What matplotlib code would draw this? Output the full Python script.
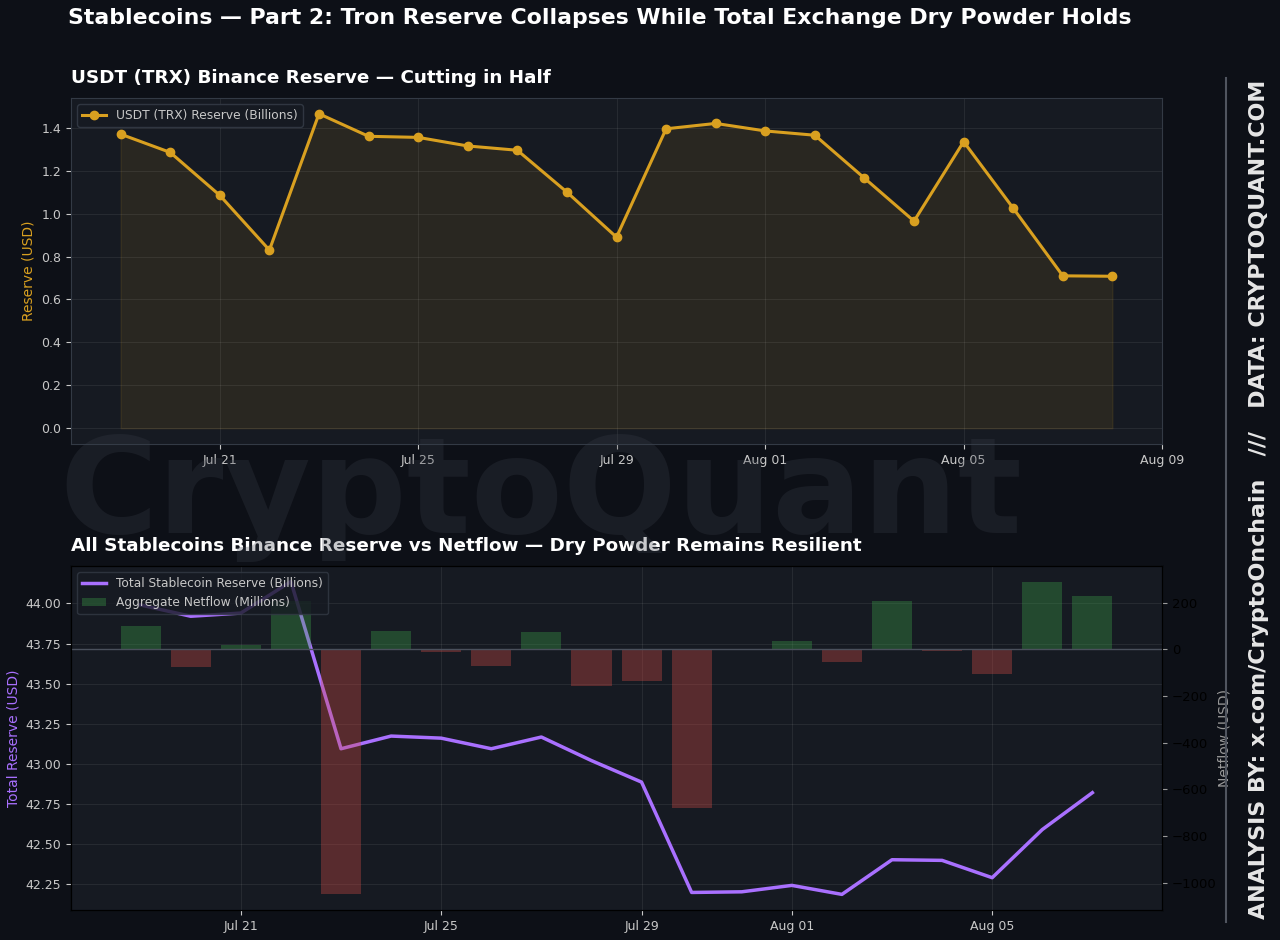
import numpy as np
import pandas as pd
import matplotlib
matplotlib.use('Agg')
import matplotlib.pyplot as plt
import matplotlib.dates as mdates
from matplotlib.lines import Line2D
from matplotlib.patches import Patch

# ============================= DATA =============================
trx_dates = pd.date_range('2025-07-19', '2025-08-08', freq='D')
trx_reserve = [1.37, 1.285, 1.085, 0.83, 1.465, 1.36, 1.355, 1.315, 1.295, 1.10,
               0.89, 1.395, 1.42, 1.385, 1.365, 1.165, 0.965, 1.335, 1.025, 0.71, 0.708]

all_dates = pd.date_range('2025-07-19', '2025-08-07', freq='D')
total_reserve = [43.99, 43.92, 43.94, 44.136, 43.094, 43.173, 43.16, 43.094, 43.167, 43.02,
                 42.886, 42.198, 42.202, 42.242, 42.186, 42.402, 42.398, 42.29, 42.59, 42.82]
netflow = [100, -75, 20, 210, -1050, 80, -10, -70, 75, -155,
           -135, -680, 0, 35, -55, 210, -6, -105, 291, 228]

# ============================= STYLE =============================
BG = '#0d1017'
AX_BG = '#161a22'
GOLD = '#d9a020'
PURPLE = '#a970ff'
GREEN = '#3ca14a'
RED = '#d64c45'
TICK = '#c8c8c8'
SPINE = '#333a45'

fig = plt.figure(figsize=(12.8, 9.4), dpi=100, facecolor=BG)
ax1 = fig.add_axes([0.0555, 0.5277, 0.8523, 0.368])
ax3 = fig.add_axes([0.0555, 0.0319, 0.8523, 0.366])

# ============================= TOP: USDT (TRX) =============================
ax1.set_facecolor(AX_BG)
ax1.plot(trx_dates, trx_reserve, color=GOLD, lw=2.2, marker='o', ms=6,
         label='USDT (TRX) Reserve (Billions)')
ax1.fill_between(trx_dates, trx_reserve, 0, color=GOLD, alpha=0.1)
ax1.set_title('USDT (TRX) Binance Reserve — Cutting in Half', loc='left',
              color='white', fontsize=13.2, fontweight='bold', pad=11)
ax1.set_ylabel('Reserve (USD)', color=GOLD, fontsize=10)
ax1.grid(color='white', alpha=0.07)
ax1.tick_params(colors=TICK, labelsize=9)
for s in ax1.spines.values():
    s.set_color(SPINE)
ax1.xaxis.set_major_formatter(mdates.DateFormatter('%b %d'))
ax1.legend(loc='upper left', fontsize=8.8, facecolor=AX_BG, edgecolor=SPINE,
           labelcolor=TICK, framealpha=0.9)

# ============================= BOTTOM: ALL STABLECOINS =============================
ax3.set_facecolor(AX_BG)
ax3.plot(all_dates, total_reserve, color=PURPLE, lw=2.5)
ax3.set_ylabel('Total Reserve (USD)', color=PURPLE, fontsize=10)
ax3.set_title('All Stablecoins Binance Reserve vs Netflow — Dry Powder Remains Resilient',
              loc='left', color='white', fontsize=13.2, fontweight='bold', pad=11)
ax3.grid(color='white', alpha=0.07)
ax3.tick_params(colors=TICK, labelsize=9)

ax4 = ax3.twinx()
bar_colors = [GREEN if v >= 0 else RED for v in netflow]
ax4.bar(all_dates, netflow, width=0.8, color=bar_colors, alpha=0.35)
ax4.axhline(0, color='#4a505c', lw=1)
ax4.set_ylabel('Netflow (USD)', color='#9a9a9a', fontsize=10, labelpad=1)
ax4.tick_params(axis='y', color='#9a9a9a', labelcolor='black', labelsize=9.5)
ax3.xaxis.set_major_formatter(mdates.DateFormatter('%b %d'))

handles = [Line2D([0], [0], color=PURPLE, lw=2.5),
           Patch(facecolor=GREEN, alpha=0.35)]
ax4.legend(handles, ['Total Stablecoin Reserve (Billions)', 'Aggregate Netflow (Millions)'],
           loc='upper left', fontsize=8.8, facecolor=AX_BG, edgecolor=SPINE,
           labelcolor=TICK, framealpha=0.8)

# ============================= TEXT / BRANDING =============================
fig.text(68 / 1280, 1 - 18 / 940,
         'Stablecoins — Part 2: Tron Reserve Collapses While Total Exchange Dry Powder Holds',
         color='white', fontsize=15.8, fontweight='bold', ha='left', va='center')

fig.text(0.4227, 1 - 533 / 940, 'CryptoQuant', fontsize=96.5, fontweight='bold',
         color='#3a3f4a', alpha=0.28, ha='center', va='baseline')

fig.add_artist(Line2D([1226 / 1280, 1226 / 1280], [1 - 78 / 940, 1 - 922 / 940],
                      color='#50555f', lw=1.5, transform=fig.transFigure))
fig.text(1259 / 1280, 1 - 499 / 940,
         'ANALYSIS BY: x.com/CryptoOnchain   ///   DATA: CRYPTOQUANT.COM',
         rotation=90, color='#e6e6e6', fontsize=15.9, fontweight='bold',
         ha='center', va='center')

fig.savefig('out.png', dpi=100, facecolor=BG)
